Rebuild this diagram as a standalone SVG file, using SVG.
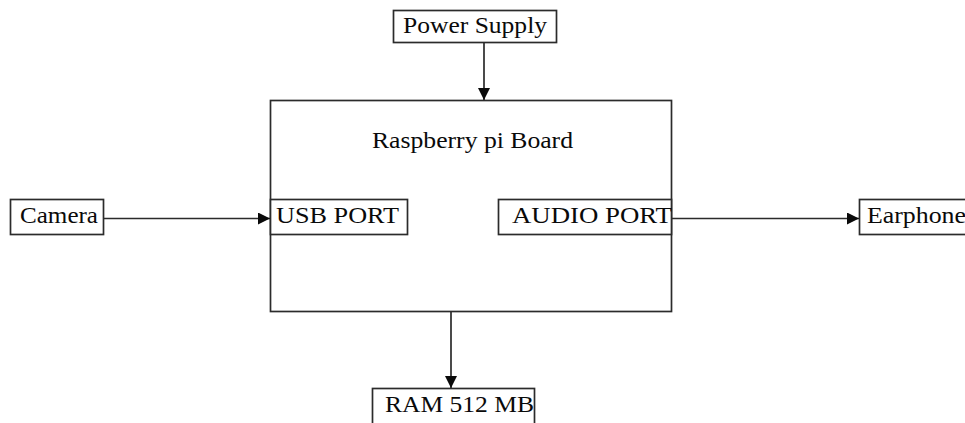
<svg xmlns="http://www.w3.org/2000/svg" width="965" height="423" viewBox="0 0 965 423">
<style>
.box{fill:#fff;stroke:#2b2b2b;stroke-width:1.7}
.t{font-family:"Liberation Serif","Times New Roman",serif;font-size:23px;fill:#0a0a0a}
.c{stroke:#2b2b2b;stroke-width:1.7;fill:none}
</style>
<defs>
<marker id="ah" markerWidth="13" markerHeight="13" refX="12" refY="6" orient="auto" markerUnits="userSpaceOnUse">
<path d="M0,0 L12,6 L0,12 Z" fill="#0a0a0a"/>
</marker>
</defs>
<rect width="965" height="423" fill="#fff"/>
<g id="board">
<rect class="box" x="270.5" y="100.5" width="401" height="211"/>
<text class="t" x="372" y="148" textLength="201" lengthAdjust="spacingAndGlyphs">Raspberry pi Board</text>
</g>
<g id="usb">
<rect class="box" x="270.5" y="199.5" width="137" height="35"/>
<text class="t" x="276" y="223" textLength="123" lengthAdjust="spacingAndGlyphs">USB PORT</text>
</g>
<g id="audio">
<rect class="box" x="498.5" y="199.5" width="173" height="35"/>
<text class="t" x="512" y="223" textLength="160" lengthAdjust="spacingAndGlyphs">AUDIO PORT</text>
</g>
<g id="power">
<rect class="box" x="393.5" y="10.5" width="163" height="32"/>
<text class="t" x="403" y="33" textLength="144" lengthAdjust="spacingAndGlyphs">Power Supply</text>
</g>
<g id="camera">
<rect class="box" x="10.5" y="199.5" width="93" height="35"/>
<text class="t" x="20" y="223" textLength="78" lengthAdjust="spacingAndGlyphs">Camera</text>
</g>
<g id="earphone">
<rect class="box" x="859.5" y="199.5" width="120" height="35"/>
<text class="t" x="867" y="223" textLength="99" lengthAdjust="spacingAndGlyphs">Earphone</text>
</g>
<g id="ram">
<rect class="box" x="372.5" y="388.5" width="162" height="50"/>
<text class="t" x="385" y="412" textLength="149" lengthAdjust="spacingAndGlyphs">RAM 512 MB</text>
</g>
<g id="connectors">
<line class="c" x1="484" y1="43" x2="484" y2="100" marker-end="url(#ah)"/>
<line class="c" x1="104" y1="218.5" x2="270" y2="218.5" marker-end="url(#ah)"/>
<line class="c" x1="672" y1="218.5" x2="859" y2="218.5" marker-end="url(#ah)"/>
<line class="c" x1="451" y1="312" x2="451" y2="388" marker-end="url(#ah)"/>
</g>
</svg>
